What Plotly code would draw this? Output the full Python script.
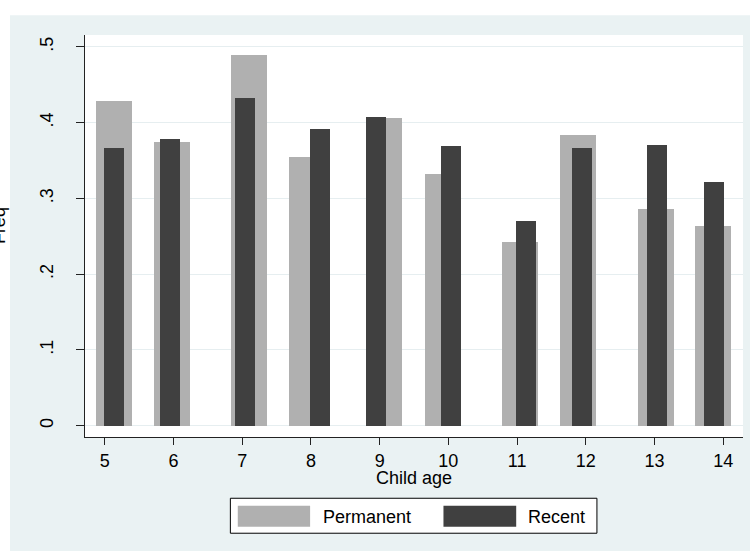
import plotly.graph_objects as go

# ---- data ----
age_ticks = [5, 6, 7, 8, 9, 10, 11, 12, 13, 14]
series_names = ["Permanent", "Recent"]
permanent_x = [5.135, 5.98, 7.10, 7.95, 9.065, 9.92, 11.045, 11.886, 13.015, 13.855]
permanent_freq = [0.429, 0.375, 0.490, 0.355, 0.406, 0.332, 0.243, 0.384, 0.286, 0.263]
recent_x = [5.135, 5.95, 7.04, 8.13, 8.95, 10.045, 11.13, 11.95, 13.04, 13.87]
recent_freq = [0.366, 0.379, 0.433, 0.392, 0.408, 0.369, 0.270, 0.366, 0.371, 0.322]
y_tickvals = [0, 0.1, 0.2, 0.3, 0.4, 0.5]
y_ticktext = ["0", ".1", ".2", ".3", ".4", ".5"]

# ---- styling ----
W, H = 750, 551
L, R, T, B = 85, 742.7, 34.7, 437.0   # plot area in pixels
FONT = "Liberation Sans, Arial, sans-serif"
FS = 18
LIGHT = "#EAF2F3"
GRAY = "#B0B0B0"
DARK = "#404040"


def px_x(p):
    return (p - L) / (R - L)


def px_y(p):
    return (B - p) / (B - T)


fig = go.Figure()
fig.add_trace(go.Bar(x=permanent_x, y=permanent_freq, width=0.524,
                     marker=dict(color=GRAY, line=dict(width=0)),
                     name=series_names[0], showlegend=False))
fig.add_trace(go.Bar(x=recent_x, y=recent_freq, width=0.291,
                     marker=dict(color=DARK, line=dict(width=0)),
                     name=series_names[1], showlegend=False))

shapes = [
    # outer light graph region
    dict(type="rect", xref="paper", yref="paper", layer="below",
         x0=px_x(10), x1=px_x(W + 5), y0=px_y(H + 5), y1=px_y(15),
         fillcolor=LIGHT, line=dict(width=0)),
    # white plot region
    dict(type="rect", xref="paper", yref="paper", layer="below",
         x0=0, x1=1, y0=0, y1=1, fillcolor="white", line=dict(width=0)),
    # legend box
    dict(type="rect", xref="paper", yref="paper",
         x0=px_x(230.3), x1=px_x(596.7), y0=px_y(533.3), y1=px_y(498.3),
         fillcolor="white", line=dict(color="black", width=1)),
    dict(type="rect", xref="paper", yref="paper",
         x0=px_x(237.7), x1=px_x(310), y0=px_y(526.7), y1=px_y(505.7),
         fillcolor=GRAY, line=dict(width=0)),
    dict(type="rect", xref="paper", yref="paper",
         x0=px_x(443.3), x1=px_x(516), y0=px_y(526.7), y1=px_y(505.7),
         fillcolor=DARK, line=dict(width=0)),
]

annotations = [
    dict(text=series_names[0], xref="paper", yref="paper", x=px_x(320.5), y=px_y(517.5),
         xanchor="left", yanchor="middle", showarrow=False,
         font=dict(family=FONT, size=FS, color="black")),
    dict(text=series_names[1], xref="paper", yref="paper", x=px_x(525.5), y=px_y(517.5),
         xanchor="left", yanchor="middle", showarrow=False,
         font=dict(family=FONT, size=FS, color="black")),
    # x-axis title
    dict(text="Child age", xref="paper", yref="paper", x=0.5, y=px_y(478.5),
         xanchor="center", yanchor="middle", showarrow=False,
         font=dict(family=FONT, size=FS, color="black")),
    # y-axis title, partially clipped at the left edge as in the reference
    dict(text="Freq", xref="paper", yref="paper", x=px_x(-1), y=px_y(225),
         xanchor="center", yanchor="middle", textangle=-90, showarrow=False,
         font=dict(family=FONT, size=FS, color="black")),
]

fig.update_layout(
    width=W, height=H,
    margin=dict(l=L, r=W - R, t=T, b=H - B, pad=0),
    paper_bgcolor="white",
    plot_bgcolor="rgba(0,0,0,0)",
    barmode="overlay",
    bargap=0,
    showlegend=False,
    shapes=shapes,
    annotations=annotations,
    font=dict(family=FONT, size=FS, color="black"),
    xaxis=dict(
        range=[4.713, 14.287],
        tickmode="array", tickvals=age_ticks, ticktext=[str(a) for a in age_ticks],
        ticks="outside", ticklen=7, tickwidth=1, tickcolor="#222222",
        showline=True, linecolor="#222222", linewidth=1,
        showgrid=False, zeroline=False,
        tickfont=dict(family=FONT, size=FS, color="black"),
    ),
    yaxis=dict(
        range=[-0.0149, 0.5158],
        tickmode="array", tickvals=y_tickvals, ticktext=y_ticktext,
        tickangle=-90,
        ticks="outside", ticklen=8, tickwidth=1, tickcolor="#222222",
        showline=True, linecolor="#222222", linewidth=1,
        showgrid=True, gridcolor="#E6EEF0", gridwidth=1.2,
        zeroline=False,
        ticklabelstandoff=16,
        tickfont=dict(family=FONT, size=FS, color="black"),
    ),
)

fig.write_html("out.html",
               config={"displayModeBar": False},
               post_script="document.body.style.margin='0';document.body.style.overflow='hidden';")
